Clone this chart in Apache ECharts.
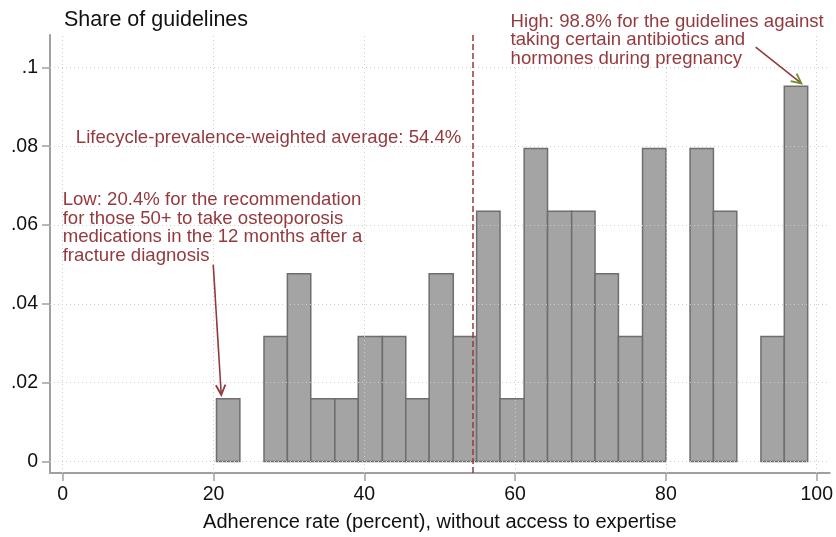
<!DOCTYPE html>
<html><head><meta charset="utf-8">
<script src="https://cdn.jsdelivr.net/npm/echarts@6/dist/echarts.min.js"></script>
<style>html,body{margin:0;padding:0;background:#fff}#c{width:836px;height:537px}</style>
</head><body><div id="c"></div>
<script>
// Histogram bins (adherence rate, percent) and share of guidelines per bin
var binLower = [20.4, 23.5, 26.7, 29.8, 32.9, 36.1, 39.2, 42.4, 45.5, 48.6, 51.8, 54.9, 58.0, 61.2, 64.3, 67.5, 70.6, 73.7, 76.9, 80.0, 83.2, 86.3, 89.4, 92.6, 95.7];
var binUpper = [23.5, 26.7, 29.8, 32.9, 36.1, 39.2, 42.4, 45.5, 48.6, 51.8, 54.9, 58.0, 61.2, 64.3, 67.5, 70.6, 73.7, 76.9, 80.0, 83.2, 86.3, 89.4, 92.6, 95.7, 98.8];
var shares = [0.0159, 0, 0.0317, 0.0476, 0.0159, 0.0159, 0.0317, 0.0317, 0.0159, 0.0476, 0.0317, 0.0635, 0.0159, 0.0794, 0.0635, 0.0635, 0.0476, 0.0317, 0.0794, 0, 0.0794, 0.0635, 0, 0.0317, 0.0952];
var xTicks = [0, 20, 40, 60, 80, 100];
var yTicks = [0, 0.02, 0.04, 0.06, 0.08, 0.1];
var meanValue = 54.4;
var lowText = 'Low: 20.4% for the recommendation\nfor those 50+ to take osteoporosis\nmedications in the 12 months after a\nfracture diagnosis';
var highText = 'High: 98.8% for the guidelines against\ntaking certain antibiotics and\nhormones during pregnancy';
var meanText = 'Lifecycle-prevalence-weighted average: 54.4%';
// annotation anchors in data coordinates (first text line centre)
var lowTextAt = [0, 0.0664];
var highTextAt = [59.4, 0.1116];
var meanTextAt = [1.75, 0.0822];
var lowArrow = [[19.97, 0.0499], [21.03, 0.0169]];
var highArrow = [[91.9, 0.1051], [97.97, 0.0959]];

var FONT = '"Liberation Sans", Arial, sans-serif';
var RED = '#943a3f';
var barData = binLower.map(function (l, i) { return [l, binUpper[i], shares[i]]; });

var chart = echarts.init(document.getElementById('c'));
var gridStyle = {color: '#cdcdcd', width: 1, type: [1, 3]};
chart.setOption({
  animation: false,
  textStyle: {fontFamily: FONT},
  title: {text: 'Share of guidelines', left: 59, top: 4,
    textStyle: {fontFamily: FONT, fontSize: 21.5, fontWeight: 'normal', color: '#111'}},
  grid: {left: 50, right: 6, top: 35, bottom: 64},
  xAxis: {
    type: 'value', min: -1.68, max: 101.72,
    name: 'Adherence rate (percent), without access to expertise',
    nameLocation: 'middle', nameGap: 39,
    nameTextStyle: {fontFamily: FONT, fontSize: 20, color: '#111'},
    axisLine: {show: true, onZero: false, lineStyle: {color: '#a0a0a0', width: 2}},
    axisTick: {show: true, length: 8, customValues: xTicks, lineStyle: {color: '#a0a0a0', width: 1.5}},
    axisLabel: {customValues: xTicks, fontSize: 19.5, color: '#111', margin: 12, fontFamily: FONT},
    splitLine: {show: false}
  },
  yAxis: {
    type: 'value', min: -0.00294, max: 0.1082,
    axisLine: {show: true, onZero: false, lineStyle: {color: '#a0a0a0', width: 2}},
    axisTick: {show: true, length: 8, customValues: yTicks, lineStyle: {color: '#a0a0a0', width: 1.5}},
    axisLabel: {customValues: yTicks, fontSize: 19.5, color: '#111', margin: 12, fontFamily: FONT,
      formatter: function (v) { if (Math.abs(v) < 1e-9) return '0'; return String(+v.toFixed(2)).replace(/^0/, ''); }},
    splitLine: {show: false}
  },
  series: [
    {
      type: 'line', data: [], z: 1, silent: true,
      markLine: {silent: true, symbol: 'none', label: {show: false}, lineStyle: gridStyle, animation: false,
        data: xTicks.map(function (v) { return {xAxis: v}; }).concat(yTicks.map(function (v) { return {yAxis: v}; }))}
    },
    {
      type: 'custom', z: 3, data: barData,
      renderItem: function (params, api) {
        var h = api.value(2);
        if (!h) return null;
        var p0 = api.coord([api.value(0), 0]);
        var p1 = api.coord([api.value(1), h]);
        return {type: 'rect', shape: {x: p0[0], y: p1[1], width: p1[0] - p0[0], height: p0[1] - p1[1]},
          style: {fill: '#a4a4a4', stroke: '#6e6e6e', lineWidth: 1.5}};
      },
      encode: {x: [0, 1], y: 2}
    },
    {
      type: 'line', data: [], z: 5, silent: true,
      markLine: {silent: true, symbol: 'none', label: {show: false}, animation: false,
        lineStyle: {color: RED, width: 1.5, type: [6, 3]},
        data: [{xAxis: meanValue}]}
    }
  ]
});

function px(p) { return chart.convertToPixel({gridIndex: 0}, p); }
function arrowEls(seg, shaftColor, headColor) {
  var a = px(seg[0]), b = px(seg[1]);
  var ang = Math.atan2(b[1] - a[1], b[0] - a[0]);
  var L = 11, w = 0.45;
  var h1 = [b[0] - L * Math.cos(ang - w), b[1] - L * Math.sin(ang - w)];
  var h2 = [b[0] - L * Math.cos(ang + w), b[1] - L * Math.sin(ang + w)];
  return [
    {type: 'line', shape: {x1: a[0], y1: a[1], x2: b[0], y2: b[1]}, style: {stroke: shaftColor, lineWidth: 1.6}, z: 10},
    {type: 'polyline', shape: {points: [h1, b, h2]}, style: {stroke: headColor, lineWidth: 1.8, fill: null}, z: 10}
  ];
}
var LH = 18.7;
function textEl(t, at) {
  var p = px(at);
  return {type: 'text', x: p[0], y: p[1] - LH / 2, z: 10,
    style: {text: t, fill: RED, font: '18.6px ' + FONT, lineHeight: LH, verticalAlign: 'top', align: 'left'}};
}
var els = [textEl(lowText, lowTextAt), textEl(meanText, meanTextAt), textEl(highText, highTextAt)];
els = els.concat(arrowEls(lowArrow, RED, RED));
els = els.concat(arrowEls(highArrow, RED, '#6b8f2a'));
chart.setOption({graphic: {elements: els}});
</script></body></html>
